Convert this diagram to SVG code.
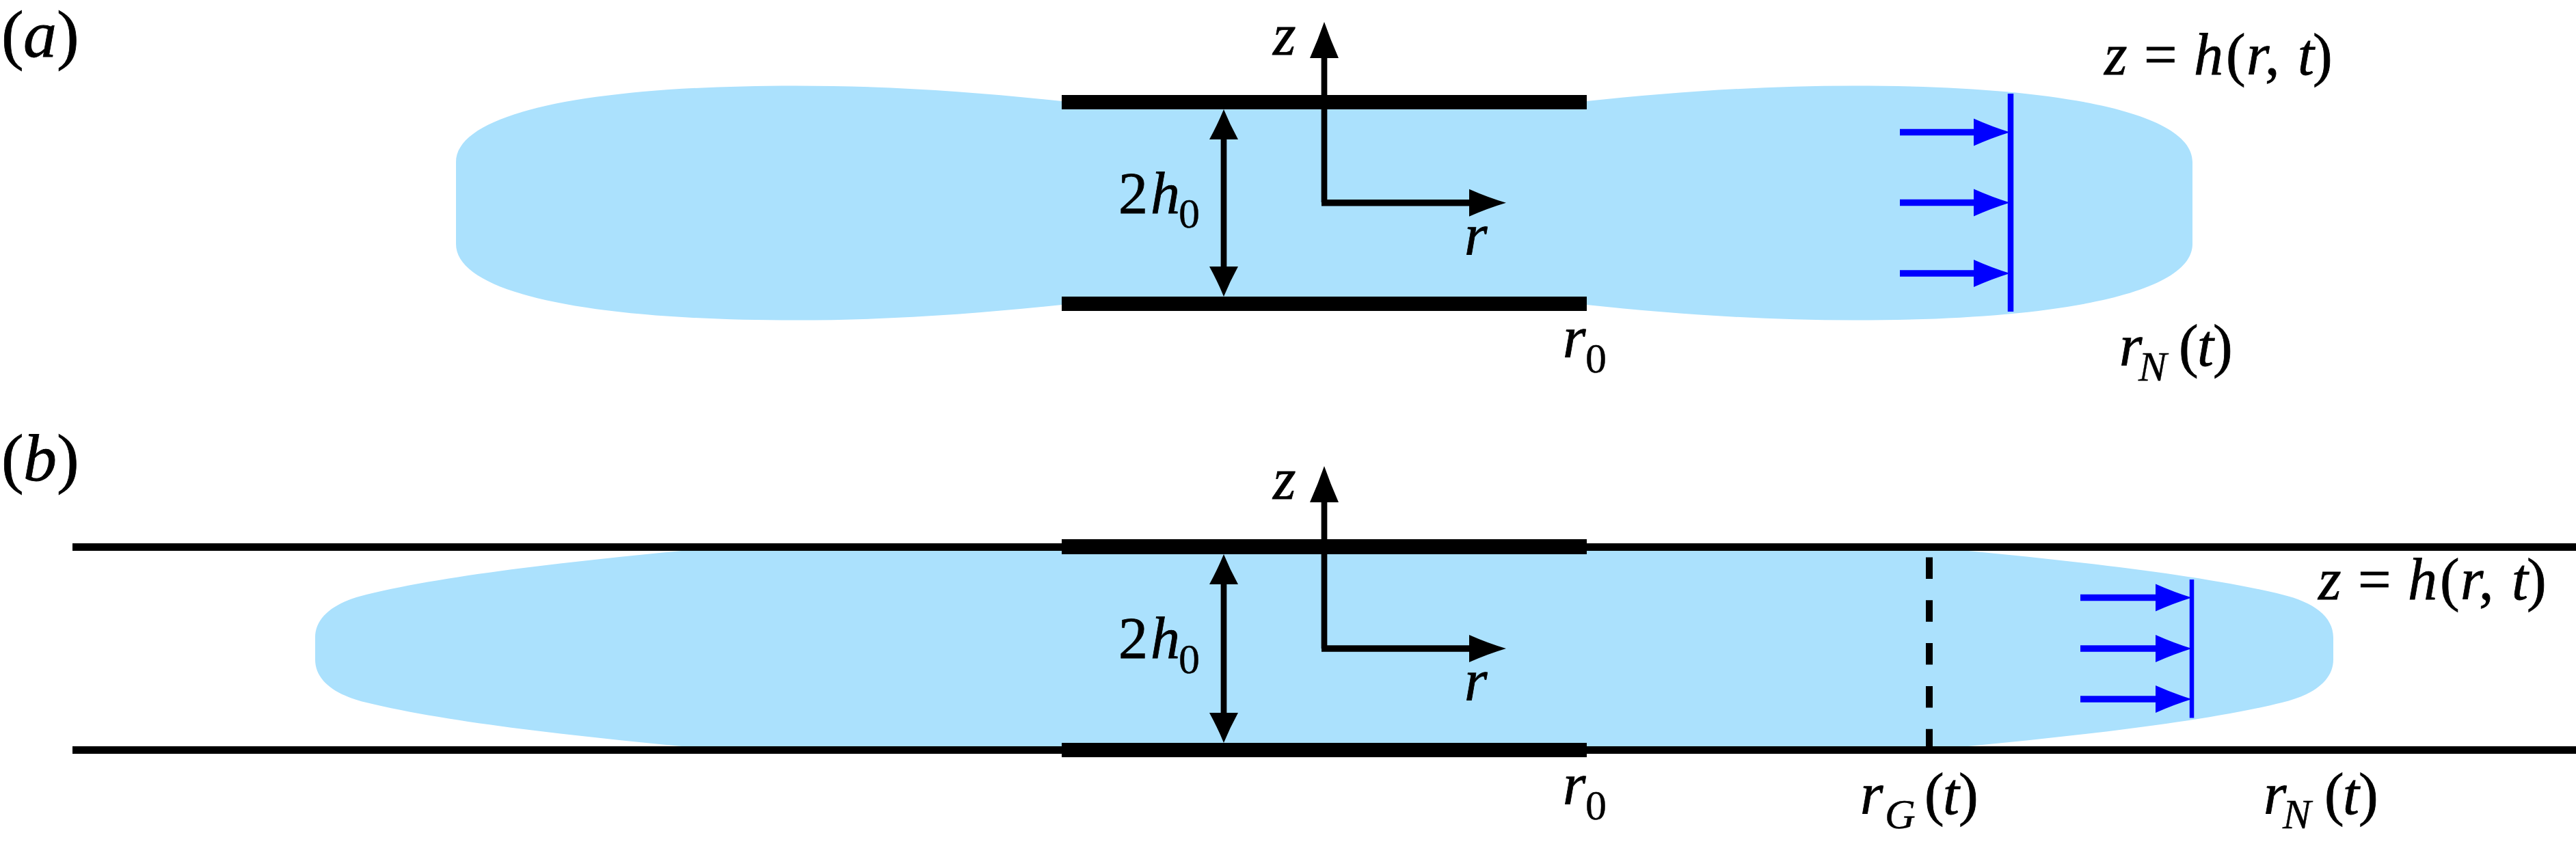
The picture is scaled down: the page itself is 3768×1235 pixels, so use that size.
<svg xmlns="http://www.w3.org/2000/svg" width="3768" height="1235" viewBox="0 0 3768 1235">
<style>
.fluid{fill:#abe1fd;stroke:none}
.wall{fill:#000;stroke:none}
.ax{fill:none;stroke:#000;stroke-width:8.7}
.axh{fill:none;stroke:#000;stroke-width:9.5}
.bl{fill:none;stroke:#00f;stroke-width:9.5}
.fa{fill:none;stroke:#00f;stroke-width:8.5}
.fb{fill:none;stroke:#00f;stroke-width:6.5}
.dash{fill:none;stroke:#000;stroke-width:10;stroke-dasharray:31.5 31.3}
text{font-family:"Liberation Serif","Times New Roman",serif;font-style:italic;font-size:86px;fill:#000;stroke:#000;stroke-width:.8}
.up{font-style:normal}
.sub{font-size:62px;stroke-width:.4}
.tag{font-size:98px}
</style>
<defs>
<marker id="spike" markerUnits="userSpaceOnUse" markerWidth="60" markerHeight="44" refX="0" refY="21" orient="auto" overflow="visible"><path d="M0,0Q27,12 53,21Q27,30 0,42Z" fill="#000"/></marker>
<marker id="dim" markerUnits="userSpaceOnUse" markerWidth="50" markerHeight="44" refX="0" refY="21" orient="auto-start-reverse" overflow="visible"><path d="M0,0Q22,12 44,21Q22,30 0,42Z" fill="#000"/></marker>
<marker id="bk" markerUnits="userSpaceOnUse" markerWidth="60" markerHeight="44" refX="0" refY="20" orient="auto" overflow="visible"><path d="M0,0Q27,12 54,20Q27,28 0,40Z" fill="#000"/></marker>
<marker id="bh" markerUnits="userSpaceOnUse" markerWidth="60" markerHeight="44" refX="0" refY="20" orient="auto" overflow="visible"><path d="M0,0Q27,12 53,20Q27,28 0,40Z" fill="#00f"/></marker>
</defs>

<g id="panel-a-fluid"><path class="fluid" d="M1553,148C1430,135 1300,125.4 1163,125.4C860,125.4 667,165 667,237L667,357C667,429 860,468.6 1163,468.6C1300,468.6 1430,459 1553,446L2321,446C2444,459 2574,468.6 2711,468.6C3014,468.6 3207,429 3207,357L3207,237C3207,165 3014,125.4 2711,125.4C2574,125.4 2444,135 2321,148Z"/></g>
<g id="panel-a-plates"><rect class="wall" x="1553" y="139" width="768" height="21"/><rect class="wall" x="1553" y="434" width="768" height="21"/></g>

<g id="panel-b-fluid"><path class="fluid" d="M997,806C830,822 650,842 536,870C490,881 461,902 461,933L461,965C461,996 490,1017 536,1028C650,1056 830,1076 997,1092L2879,1092C3044,1076 3224,1056 3338,1028C3384,1017 3413,996 3413,965L3413,933C3413,902 3384,881 3338,870C3224,842 3044,822 2879,806Z"/></g>
<g id="panel-b-walls"><rect class="wall" x="106" y="795" width="3662" height="11"/><rect class="wall" x="106" y="1092" width="3662" height="11"/><rect class="wall" x="1553" y="789" width="768" height="22"/><rect class="wall" x="1553" y="1087" width="768" height="21"/></g>

<g id="connectors">
<line class="ax" x1="1937" y1="296" x2="1937" y2="85" marker-end="url(#spike)"/>
<line class="axh" x1="1933" y1="296.7" x2="2149" y2="296.7" marker-end="url(#bk)"/>
<line class="ax" x1="1790" y1="204" x2="1790" y2="390" marker-start="url(#dim)" marker-end="url(#dim)"/>
<line class="fa" x1="2941" y1="137" x2="2941" y2="456"/>
<line class="bl" x1="2779" y1="193.5" x2="2887" y2="193.5" marker-end="url(#bh)"/>
<line class="bl" x1="2779" y1="296.5" x2="2887" y2="296.5" marker-end="url(#bh)"/>
<line class="bl" x1="2779" y1="400" x2="2887" y2="400" marker-end="url(#bh)"/>

<line class="ax" x1="1937" y1="949" x2="1937" y2="735" marker-end="url(#spike)"/>
<line class="axh" x1="1933" y1="949" x2="2149" y2="949" marker-end="url(#bk)"/>
<line class="ax" x1="1790" y1="855" x2="1790" y2="1043" marker-start="url(#dim)" marker-end="url(#dim)"/>
<line class="dash" x1="2822" y1="815.5" x2="2822" y2="1092"/>
<line class="fb" x1="3206" y1="848" x2="3206" y2="1050.5"/>
<line class="bl" x1="3043" y1="874.5" x2="3153" y2="874.5" marker-end="url(#bh)"/>
<line class="bl" x1="3043" y1="949" x2="3153" y2="949" marker-end="url(#bh)"/>
<line class="bl" x1="3043" y1="1023" x2="3153" y2="1023" marker-end="url(#bh)"/>
</g>

<g id="labels-a">
<text class="tag" x="2" y="83"><tspan class="up">(</tspan><tspan x="34">a</tspan><tspan class="up" x="83">)</tspan></text>
<text x="1862" y="80">z</text>
<text x="1636" y="312"><tspan class="up">2</tspan><tspan x="1683">h</tspan></text><text class="sub up" x="1724" y="333">0</text>
<text x="2142" y="373">r</text>
<text x="2286" y="523">r</text><text class="sub up" x="2319" y="545">0</text>
<text x="3100" y="535">r</text><text class="sub" x="3128" y="557">N</text><text x="3187" y="535"><tspan class="up">(</tspan><tspan x="3214">t</tspan><tspan class="up" x="3237">)</tspan></text>
<text x="3078" y="109">z</text><text class="up" x="3136" y="109">=</text><text x="3209" y="109">h</text><text x="3256" y="109"><tspan class="up">(</tspan><tspan x="3286">r</tspan><tspan class="up" x="3313">,</tspan><tspan x="3361">t</tspan><tspan class="up" x="3383">)</tspan></text>
</g>
<g id="labels-b">
<text class="tag" x="2" y="703"><tspan class="up">(</tspan><tspan x="34">b</tspan><tspan class="up" x="83">)</tspan></text>
<text x="1862" y="730">z</text>
<text x="1636" y="963"><tspan class="up">2</tspan><tspan x="1683">h</tspan></text><text class="sub up" x="1724" y="985">0</text>
<text x="2142" y="1025">r</text>
<text x="2286" y="1177">r</text><text class="sub up" x="2319" y="1199">0</text>
<text x="2721" y="1191">r</text><text class="sub" x="2757" y="1212">G</text><text x="2815" y="1191"><tspan class="up">(</tspan><tspan x="2842">t</tspan><tspan class="up" x="2865">)</tspan></text>
<text x="3311" y="1191">r</text><text class="sub" x="3339" y="1212">N</text><text x="3400" y="1191"><tspan class="up">(</tspan><tspan x="3427">t</tspan><tspan class="up" x="3450">)</tspan></text>
<text x="3391" y="877">z</text><text class="up" x="3449" y="877">=</text><text x="3522" y="877">h</text><text x="3569" y="877"><tspan class="up">(</tspan><tspan x="3599">r</tspan><tspan class="up" x="3626">,</tspan><tspan x="3674">t</tspan><tspan class="up" x="3696">)</tspan></text>
</g>
</svg>
